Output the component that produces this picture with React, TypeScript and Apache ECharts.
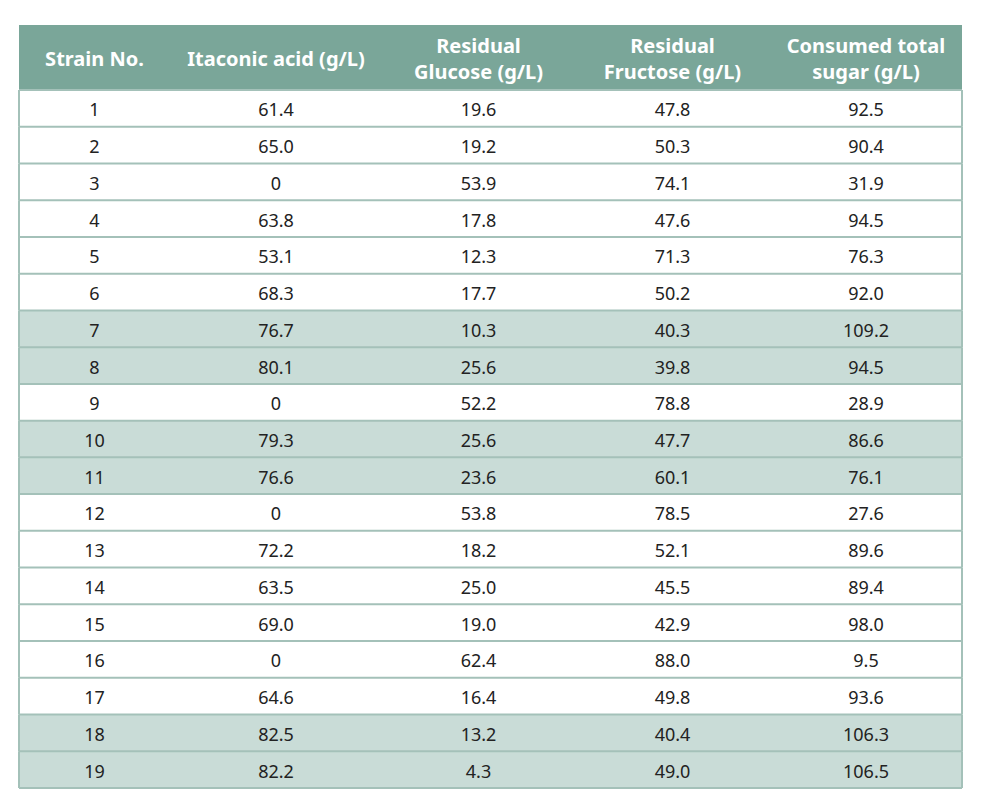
import React, { useEffect, useRef } from "react";
import * as echarts from "echarts";

const strains = ["1", "2", "3", "4", "5", "6", "7", "8", "9", "10", "11", "12", "13", "14", "15", "16", "17", "18", "19"];
const itaconicAcid = [61.4, 65.0, 0, 63.8, 53.1, 68.3, 76.7, 80.1, 0, 79.3, 76.6, 0, 72.2, 63.5, 69.0, 0, 64.6, 82.5, 82.2];
const residualGlucose = [19.6, 19.2, 53.9, 17.8, 12.3, 17.7, 10.3, 25.6, 52.2, 25.6, 23.6, 53.8, 18.2, 25.0, 19.0, 62.4, 16.4, 13.2, 4.3];
const residualFructose = [47.8, 50.3, 74.1, 47.6, 71.3, 50.2, 40.3, 39.8, 78.8, 47.7, 60.1, 78.5, 52.1, 45.5, 42.9, 88.0, 49.8, 40.4, 49.0];
const consumedSugar = [92.5, 90.4, 31.9, 94.5, 76.3, 92.0, 109.2, 94.5, 28.9, 86.6, 76.1, 27.6, 89.6, 89.4, 98.0, 9.5, 93.6, 106.3, 106.5];
const highlightedStrains = ["7", "8", "10", "11", "18", "19"];
const headers = [
  ["Strain No."],
  ["Itaconic acid (g/L)"],
  ["Residual", "Glucose (g/L)"],
  ["Residual", "Fructose (g/L)"],
  ["Consumed total", "sugar (g/L)"],
];

// layout (not data)
const colWidths = [151, 212, 193, 195, 192];
const TABLE_LEFT = 19;
const TABLE_TOP = 25;
const HEADER_H = 65;
const TABLE_BOTTOM_GAP = 24;
const W = 987;
const H = 812;
const HEADER_BG = "#7aa699";
const HIGHLIGHT_BG = "#c9dcd7";
const LINE_COLOR = "#a4c1b9";
const FONT = "'Noto Sans', 'Open Sans', sans-serif";

const totalWidth = colWidths.reduce((a, b) => a + b, 0);
const colEdges: number[] = [0];
colWidths.forEach((w, i) => colEdges.push(colEdges[i] + w));

const fmt = (v: number) => (v === 0 ? "0" : v.toFixed(1));

export default function App() {
  const ref = useRef<HTMLDivElement>(null);
  useEffect(() => {
    if (!ref.current) return;
    const chart = echarts.init(ref.current, undefined, { renderer: "svg" });

    const columns: string[][] = [
      strains,
      itaconicAcid.map(fmt),
      residualGlucose.map(fmt),
      residualFructose.map(fmt),
      consumedSugar.map(fmt),
    ];
    const cellTexts: string[] = [];
    const cellData: number[][] = [];
    strains.forEach((s, r) => {
      columns.forEach((col, c) => {
        cellData.push([c, r]);
        cellTexts.push(col[r]);
      });
    });

    const headerGraphics: any[] = [
      {
        type: "rect",
        shape: { x: TABLE_LEFT, y: TABLE_TOP, width: totalWidth, height: HEADER_H },
        style: { fill: HEADER_BG },
      },
    ];
    headers.forEach((lines, c) => {
      const cx = TABLE_LEFT + (colEdges[c] + colEdges[c + 1]) / 2;
      headerGraphics.push({
        type: "text",
        x: cx,
        y: TABLE_TOP + HEADER_H / 2 + 1,
        style: {
          text: lines.join("\n"),
          fill: "#ffffff",
          font: `bold 20px ${FONT}`,
          lineHeight: 26,
          align: "center",
          verticalAlign: "middle",
        },
      });
    });

    chart.setOption({
      animation: false,
      backgroundColor: "#ffffff",
      grid: {
        left: TABLE_LEFT,
        top: TABLE_TOP + HEADER_H,
        width: totalWidth,
        bottom: TABLE_BOTTOM_GAP,
        containLabel: false,
      },
      xAxis: { type: "value", min: 0, max: totalWidth, show: false },
      yAxis: { type: "category", data: strains, inverse: true, show: false },
      graphic: headerGraphics,
      series: [
        {
          type: "custom",
          name: "rows",
          data: strains.map((s, i) => [0, i]),
          renderItem: (params: any, api: any) => {
            const cs = params.coordSys;
            const r = api.value(1);
            const center = api.coord([0, r]);
            const h = api.size([0, 1])[1];
            const top = center[1] - h / 2;
            const hl = highlightedStrains.includes(strains[r]);
            const children: any[] = [
              { type: "rect", shape: { x: cs.x, y: top, width: cs.width, height: h }, style: { fill: hl ? HIGHLIGHT_BG : "#ffffff" } },
              { type: "line", shape: { x1: cs.x, y1: top, x2: cs.x + cs.width, y2: top }, style: { stroke: LINE_COLOR, lineWidth: 2 } },
              { type: "line", shape: { x1: cs.x, y1: top, x2: cs.x, y2: top + h }, style: { stroke: LINE_COLOR, lineWidth: 2 } },
              { type: "line", shape: { x1: cs.x + cs.width, y1: top, x2: cs.x + cs.width, y2: top + h }, style: { stroke: LINE_COLOR, lineWidth: 2 } },
            ];
            if (r === strains.length - 1) {
              children.push({ type: "line", shape: { x1: cs.x, y1: top + h, x2: cs.x + cs.width, y2: top + h }, style: { stroke: LINE_COLOR, lineWidth: 2 } });
            }
            return { type: "group", children };
          },
          z: 1,
        },
        {
          type: "custom",
          name: "cells",
          data: cellData,
          renderItem: (params: any, api: any) => {
            const c = api.value(0);
            const r = api.value(1);
            const left = api.coord([colEdges[c], r]);
            const right = api.coord([colEdges[c + 1], r]);
            return {
              type: "text",
              x: (left[0] + right[0]) / 2,
              y: left[1] + 1,
              style: {
                text: cellTexts[params.dataIndex],
                fill: "#222222",
                font: `18px ${FONT}`,
                align: "center",
                verticalAlign: "middle",
              },
            };
          },
          z: 2,
        },
      ],
    });
    return () => chart.dispose();
  }, []);
  return <div ref={ref} style={{ position: "absolute", left: 0, top: 0, width: W, height: H }} />;
}
